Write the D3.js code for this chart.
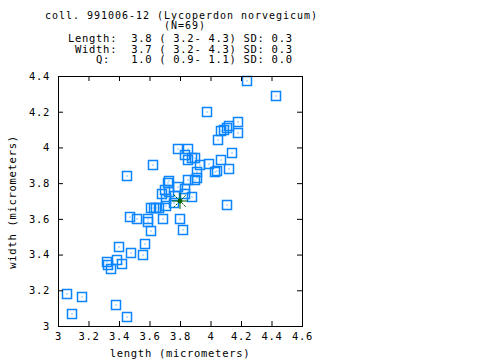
<!DOCTYPE html>
<html>
<head>
<meta charset="utf-8">
<script src="https://cdn.jsdelivr.net/npm/d3@7"></script>
<style>
  body { margin: 0; background: #fff; }
  text { font-family: "DejaVu Sans Mono", monospace; font-size: 10.5px; letter-spacing: 0.7px; fill: #000; white-space: pre; }
</style>
</head>
<body>
<div id="graph"></div>
<script>
var lengths = [4.24, 4.43, 3.98, 4.18, 4.18, 4.12, 4.11, 4.09, 4.07, 4.05,
               4.14, 4.07, 3.99, 4.12, 4.04, 4.03, 3.45, 3.62, 3.79, 3.83,
               3.85, 3.88, 3.90, 3.91, 3.91, 3.90, 3.85, 3.73, 3.79, 3.70,
               3.68, 3.72, 3.88, 3.76, 3.71, 3.61, 3.63, 3.64, 3.66, 3.71,
               3.47, 3.52, 3.59, 3.59, 3.69, 3.80, 3.61, 3.82, 4.11, 3.40,
               3.48, 3.57, 3.56, 3.32, 3.33, 3.35, 3.39, 3.42, 3.06, 3.16,
               3.09, 3.38, 3.45, 3.83, 3.77, 3.83, 3.93, 3.85, 3.73];
var widths  = [4.37, 4.29, 4.20, 4.14, 4.08, 4.12, 4.11, 4.10, 4.09, 4.04,
               3.97, 3.93, 3.91, 3.88, 3.87, 3.86, 3.84, 3.90, 3.99, 3.96,
               3.93, 3.94, 3.94, 3.86, 3.83, 3.82, 3.82, 3.81, 3.78, 3.76,
               3.74, 3.80, 3.72, 3.69, 3.71, 3.66, 3.66, 3.66, 3.66, 3.67,
               3.61, 3.60, 3.60, 3.58, 3.60, 3.60, 3.53, 3.54, 3.68, 3.44,
               3.41, 3.46, 3.40, 3.36, 3.34, 3.32, 3.37, 3.35, 3.18, 3.16,
               3.07, 3.12, 3.05, 3.74, 3.73, 3.77, 3.90, 3.99, 3.75];
var meanLength = 3.8, meanWidth = 3.7;
var xTicks = [3, 3.2, 3.4, 3.6, 3.8, 4, 4.2, 4.4, 4.6];
var yTicks = [3, 3.2, 3.4, 3.6, 3.8, 4, 4.2, 4.4];
var headerLines = ["coll. 991006-12 (Lycoperdon norvegicum)",
                   "(N=69)",
                   "Length:  3.8 ( 3.2- 4.3) SD: 0.3",
                   " Width:  3.7 ( 3.2- 4.3) SD: 0.3",
                   "    Q:   1.0 ( 0.9- 1.1) SD: 0.0"];

var W = 480, H = 360;
var plot = {left: 58, right: 302, top: 76, bottom: 326};

var svg = d3.select("#graph").append("svg")
    .attr("width", W).attr("height", H);
svg.append("rect").attr("width", W).attr("height", H).attr("fill", "#fff");

var x = d3.scaleLinear().domain([3, 4.6]).range([plot.left, plot.right]);
var y = d3.scaleLinear().domain([3, 4.4]).range([plot.bottom, plot.top]);
var fmt = d => String(+d.toFixed(1));

// header
var headX = [45, 164, 68, 68, 68];
var headY = [18.5, 29, 42, 52.5, 63];
svg.append("g").selectAll("text")
    .data(headerLines).enter().append("text")
    .attr("x", (d, i) => headX[i])
    .attr("y", (d, i) => headY[i])
    .style("font-size", (d, i) => i < 2 ? "10px" : null)
    .style("letter-spacing", (d, i) => i < 2 ? "0.98px" : null)
    .text(d => d);

// points
var pts = lengths.map((l, i) => ({l: l, w: widths[i]}));
var blue = "#0a84ff";
var g = svg.append("g");
g.selectAll("rect.box").data(pts).enter().append("rect")
    .attr("class", "box")
    .attr("x", d => Math.round(x(d.l)) - 4.5)
    .attr("y", d => Math.round(y(d.w)) - 4.5)
    .attr("width", 9).attr("height", 9)
    .attr("fill", "none").attr("stroke", blue).attr("stroke-width", 1.5);
g.selectAll("rect.dot").data(pts).enter().append("rect")
    .attr("class", "dot")
    .attr("x", d => Math.round(x(d.l)) - 0.5)
    .attr("y", d => Math.round(y(d.w)) - 0.5)
    .attr("width", 1).attr("height", 1)
    .attr("fill", blue);

// mean star
var green = "#006400";
var cx = x(meanLength), cy = y(meanWidth), r = 8;
var star = svg.append("g").attr("stroke", green).attr("stroke-width", 1);
star.append("line").attr("x1", cx).attr("x2", cx).attr("y1", cy - r).attr("y2", cy + r);
star.append("line").attr("x1", cx - r).attr("x2", cx + r).attr("y1", cy).attr("y2", cy);
star.append("line").attr("x1", cx - r * 0.8).attr("x2", cx + r * 0.8)
    .attr("y1", cy - r * 0.8).attr("y2", cy + r * 0.8).attr("stroke-dasharray", "2,1");
star.append("line").attr("x1", cx - r * 0.8).attr("x2", cx + r * 0.8)
    .attr("y1", cy + r * 0.8).attr("y2", cy - r * 0.8).attr("stroke-dasharray", "2,1");
star.append("circle").attr("cx", cx).attr("cy", cy).attr("r", 2).attr("fill", green);

// axes (ticks point inward)
function styleAxis(sel) {
  sel.select(".domain").remove();
  sel.selectAll("line").attr("stroke", "#000");
  sel.selectAll("text").attr("fill", "#000");
  sel.attr("font-size", null).attr("font-family", null);
}
svg.append("g").attr("transform", "translate(0," + plot.bottom + ")")
    .call(d3.axisBottom(x).tickValues(xTicks).tickSize(-5).tickPadding(7).tickFormat(fmt))
    .call(styleAxis);
svg.append("g").attr("transform", "translate(" + plot.left + ",0)")
    .call(d3.axisLeft(y).tickValues(yTicks).tickSize(-5).tickPadding(8).tickFormat(fmt))
    .call(styleAxis);
svg.append("g").attr("transform", "translate(0," + plot.top + ")")
    .call(d3.axisTop(x).tickValues(xTicks).tickSize(-5).tickFormat(""))
    .call(styleAxis);
svg.append("g").attr("transform", "translate(" + plot.right + ",0)")
    .call(d3.axisRight(y).tickValues(yTicks).tickSize(-5).tickFormat(""))
    .call(styleAxis);

// frame
svg.append("rect")
    .attr("x", plot.left + 0.5).attr("y", plot.top + 0.5)
    .attr("width", plot.right - plot.left).attr("height", plot.bottom - plot.top)
    .attr("fill", "none").attr("stroke", "#000").attr("stroke-width", 1);

// axis titles
svg.append("text").attr("x", 180).attr("y", 357)
    .attr("text-anchor", "middle").text("length (micrometers)");
svg.append("text").attr("transform", "translate(16,202) rotate(-90)")
    .attr("text-anchor", "middle").text("width (micrometers)");
</script>
</body>
</html>
